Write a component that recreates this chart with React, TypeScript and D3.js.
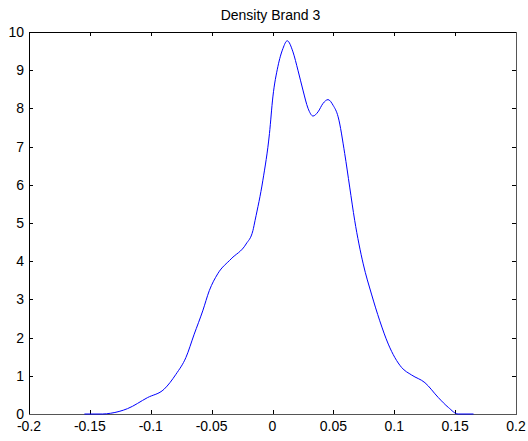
import React from "react";
import * as d3 from "d3";

const title = "Density Brand 3";
const xTicks = [-0.2, -0.15, -0.1, -0.05, 0, 0.05, 0.1, 0.15, 0.2];
const xTickLabels = ["-0.2", "-0.15", "-0.1", "-0.05", "0", "0.05", "0.1", "0.15", "0.2"];
const yTicks = [0, 1, 2, 3, 4, 5, 6, 7, 8, 9, 10];

const returns = [
  -0.1545, -0.1397, -0.1329, -0.1191, -0.1026, -0.089, -0.0793, -0.0711, -0.0643, -0.0573,
  -0.0519, -0.045, -0.034, -0.0217, -0.0161, -0.0143, -0.0079, -0.0025, 0.0003, 0.0044,
  0.0086, 0.0121, 0.0168, 0.0209, 0.025, 0.0292, 0.0333, 0.0374, 0.0415, 0.0456,
  0.0498, 0.0539, 0.0593, 0.0634, 0.0675, 0.0745, 0.0813, 0.0881, 0.0951, 0.106,
  0.1143, 0.1252, 0.1362, 0.1445, 0.1524, 0.1651,
];
const density = [
  0.0, 0.0, 0.02, 0.14, 0.43, 0.65, 1.04, 1.48, 2.09, 2.7,
  3.23, 3.67, 4.06, 4.45, 4.8, 5.07, 6.12, 7.34, 8.3, 9.09,
  9.57, 9.77, 9.48, 9.0, 8.48, 8.0, 7.8, 7.91, 8.13, 8.23,
  8.08, 7.78, 6.82, 5.94, 5.07, 3.93, 3.14, 2.44, 1.83, 1.22,
  1.02, 0.82, 0.43, 0.17, 0.0, 0.0,
];

const W = 528;
const H = 441;
const left = 29;
const right = 516;
const top = 32;
const bottom = 414;

export default function App() {
  const x = d3.scaleLinear().domain([-0.2, 0.2]).range([left, right]);
  const y = d3.scaleLinear().domain([0, 10]).range([bottom, top]);
  const pts: [number, number][] = returns.map((r, i) => [r, density[i]]);
  const line = d3
    .line<[number, number]>()
    .x((d) => x(d[0]))
    .y((d) => y(d[1]))
    .curve(d3.curveMonotoneX);
  const font = "'Liberation Sans', Arial, sans-serif";
  const tickLen = 4;
  return (
    <svg
      width={W}
      height={H}
      style={{ position: "absolute", left: 0, top: 0, background: "#fff" }}
      fontFamily={font}
    >
      <rect x={0} y={0} width={W} height={H} fill="#fff" />
      {/* box */}
      <line x1={left + 0.5} x2={left + 0.5} y1={top} y2={bottom} stroke="#000" />
      <line x1={left} x2={right} y1={top + 0.5} y2={top + 0.5} stroke="#000" />
      <line x1={right + 0.5} x2={right + 0.5} y1={top} y2={bottom + 1} stroke="#555" />
      <line x1={left} x2={right} y1={bottom + 0.5} y2={bottom + 0.5} stroke="#555" />
      {xTicks.map((t, i) => (
        <g key={"x" + i}>
          {i > 0 && i < xTicks.length - 1 && (
            <>
              <line x1={Math.round(x(t)) + 0.5} x2={Math.round(x(t)) + 0.5} y1={bottom} y2={bottom - tickLen} stroke="#000" />
              <line x1={Math.round(x(t)) + 0.5} x2={Math.round(x(t)) + 0.5} y1={top} y2={top + tickLen} stroke="#000" />
            </>
          )}
          <text x={x(t)} y={bottom + 17} textAnchor="middle" fontSize={14} fill="#000">
            {xTickLabels[i]}
          </text>
        </g>
      ))}
      {yTicks.map((t, i) => (
        <g key={"y" + i}>
          {i > 0 && i < yTicks.length - 1 && (
            <>
              <line x1={left} x2={left + tickLen} y1={Math.round(y(t)) + 0.5} y2={Math.round(y(t)) + 0.5} stroke="#000" />
              <line x1={right} x2={right - tickLen} y1={Math.round(y(t)) + 0.5} y2={Math.round(y(t)) + 0.5} stroke="#000" />
            </>
          )}
          <text x={left - 5} y={y(t) + 5} textAnchor="end" fontSize={14} fill="#000">
            {t}
          </text>
        </g>
      ))}
      <path d={line(pts) || ""} fill="none" stroke="#0000ff" strokeWidth={1} />
      <text x={270.5} y={20} textAnchor="middle" fontSize={14} fill="#000">
        {title}
      </text>
    </svg>
  );
}
